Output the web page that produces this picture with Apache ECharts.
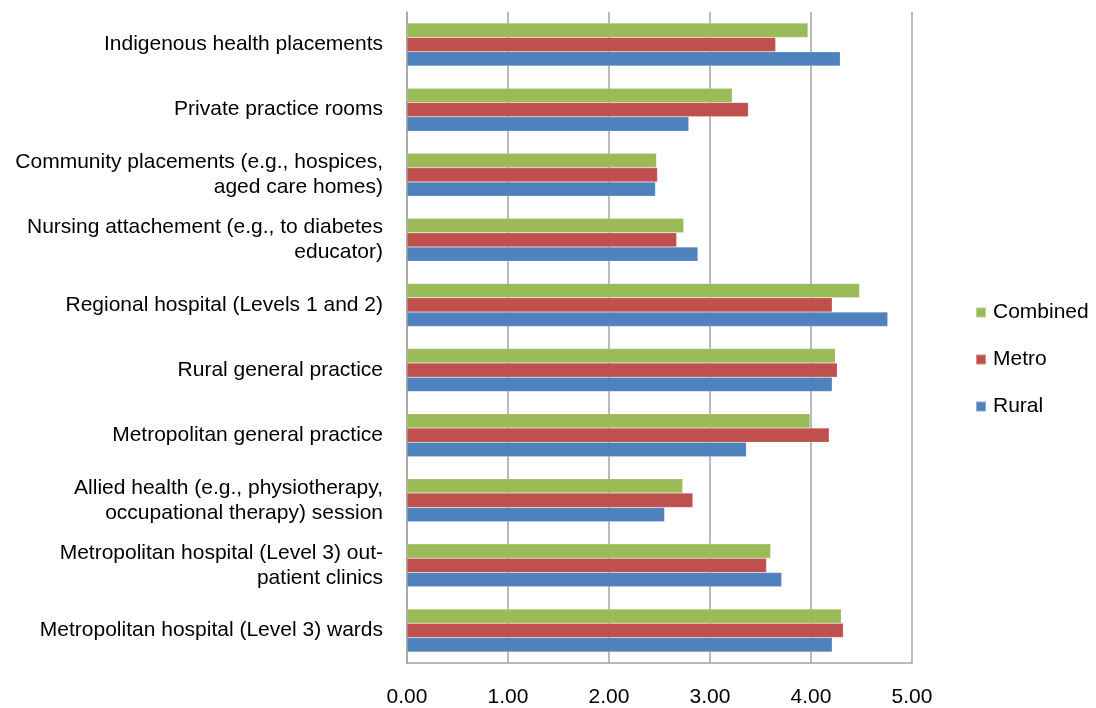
<!DOCTYPE html>
<html>
<head>
<meta charset="utf-8">
<script src="https://cdn.jsdelivr.net/npm/echarts@6/dist/echarts.min.js"></script>
<style>html,body{margin:0;padding:0;background:#fff;}#c{width:1096px;height:708px;}</style>
</head>
<body>
<div id="c"></div>
<script>
// Categories, top to bottom
var categories = [
  'Indigenous health placements',
  'Private practice rooms',
  'Community placements (e.g., hospices,\naged care homes)',
  'Nursing attachement (e.g., to diabetes\neducator)',
  'Regional hospital (Levels 1 and 2)',
  'Rural general practice',
  'Metropolitan general practice',
  'Allied health (e.g., physiotherapy,\noccupational therapy) session',
  'Metropolitan hospital (Level 3) out-\npatient clinics',
  'Metropolitan hospital (Level 3) wards'
];
var combined = [3.97, 3.22, 2.47, 2.74, 4.48, 4.24, 3.99, 2.73, 3.60, 4.30];
var metro    = [3.65, 3.38, 2.48, 2.67, 4.21, 4.26, 4.18, 2.83, 3.56, 4.32];
var rural    = [4.29, 2.79, 2.46, 2.88, 4.76, 4.21, 3.36, 2.55, 3.71, 4.21];
var xTicks = [0, 1, 2, 3, 4, 5];

var chart = echarts.init(document.getElementById('c'), null, {renderer: 'canvas'});
var font = 'Liberation Sans, Arial, sans-serif';
function ser(name, data, color) {
  return {
    name: name, type: 'bar', data: data,
    barGap: '0%', barCategoryGap: '34%',
    itemStyle: {color: color, borderColor: 'rgba(255,255,255,0.35)', borderWidth: 0.5},
    emphasis: {disabled: true}
  };
}
chart.setOption({
  animation: false,
  backgroundColor: '#ffffff',
  grid: {left: 407, right: 184, top: 12, bottom: 44, containLabel: false},
  legend: {
    orient: 'vertical', left: 970, top: 297,
    data: ['Combined', 'Metro', 'Rural'],
    itemWidth: 10, itemHeight: 10, itemGap: 26,
    icon: 'rect',
    textStyle: {fontFamily: font, fontSize: 21, color: '#000', padding: [0, 0, 0, 2]}
  },
  xAxis: {
    type: 'value', min: xTicks[0], max: xTicks[xTicks.length - 1], interval: 1,
    axisLine: {show: true, lineStyle: {color: '#a3a3a3', width: 1.5}},
    axisTick: {show: false},
    axisLabel: {fontFamily: font, fontSize: 21, color: '#000', margin: 24,
      formatter: function (v) { return v.toFixed(2); }},
    splitLine: {show: true, lineStyle: {color: '#a3a3a3', width: 1.5}}
  },
  yAxis: {
    type: 'category', data: categories, inverse: true,
    axisLine: {show: true, lineStyle: {color: '#a3a3a3', width: 1.5}},
    axisTick: {show: false},
    axisLabel: {fontFamily: font, fontSize: 21, color: '#000', margin: 24, lineHeight: 25, align: 'right'}
  },
  series: [
    ser('Combined', combined, '#9bbb59'),
    ser('Metro', metro, '#c0504d'),
    ser('Rural', rural, '#4f81bd')
  ]
});
</script>
</body>
</html>
